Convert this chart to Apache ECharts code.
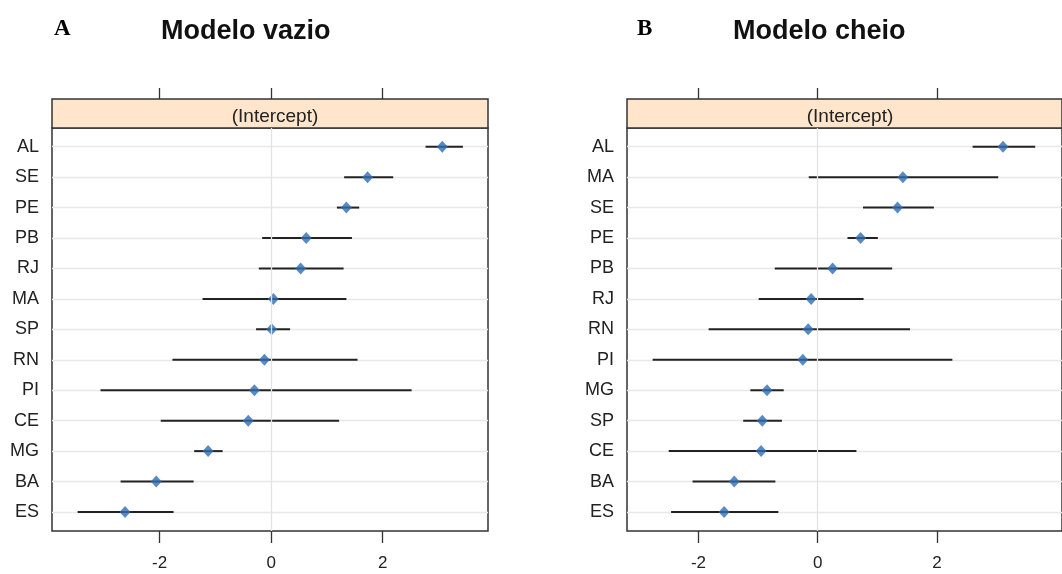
<!DOCTYPE html>
<html>
<head>
<meta charset="utf-8">
<script src="https://cdn.jsdelivr.net/npm/echarts@6/dist/echarts.min.js"></script>
<style>html,body{margin:0;padding:0;background:#fff;}#c{width:1062px;height:574px;}</style>
</head>
<body>
<div id="c"></div>
<script>
// Panel A: Modelo vazio
const categoriesA = ['AL','SE','PE','PB','RJ','MA','SP','RN','PI','CE','MG','BA','ES'];
const estA = [3.07, 1.73, 1.35, 0.63, 0.53, 0.04, 0.01, -0.12, -0.30, -0.41, -1.13, -2.06, -2.62];
const loA  = [2.77, 1.31, 1.18, -0.16, -0.22, -1.23, -0.27, -1.77, -3.06, -1.98, -1.38, -2.70, -3.47];
const hiA  = [3.44, 2.19, 1.58, 1.45, 1.30, 1.35, 0.34, 1.55, 2.52, 1.22, -0.87, -1.39, -1.75];
// Panel B: Modelo cheio
const categoriesB = ['AL','MA','SE','PE','PB','RJ','RN','PI','MG','SP','CE','BA','ES'];
const estB = [3.11, 1.43, 1.34, 0.72, 0.25, -0.11, -0.16, -0.25, -0.85, -0.93, -0.95, -1.40, -1.57];
const loB  = [2.60, -0.15, 0.76, 0.50, -0.72, -0.99, -1.83, -2.77, -1.13, -1.25, -2.50, -2.10, -2.46];
const hiB  = [3.65, 3.03, 1.95, 1.01, 1.25, 0.77, 1.55, 2.26, -0.57, -0.60, 0.65, -0.71, -0.66];
const xTicks = [-2, 0, 2];
const refValue = 0;
const panelLetters = ['A', 'B'];
const panelTitles = ['Modelo vazio', 'Modelo cheio'];
const stripLabel = '(Intercept)';

const FONT = '"Liberation Sans", Arial, sans-serif';
const DARK = '#333333';
const panels = [
  {cats: categoriesA, est: estA, lo: loA, hi: hiA, left: 52, width: 436, min: -3.93, max: 3.89, titleX: 161, letterX: 54},
  {cats: categoriesB, est: estB, lo: loB, hi: hiB, left: 627, width: 436, min: -3.20, max: 4.10, titleX: 733, letterX: 637}
];
const BOX_TOP = 128, BOX_BOTTOM = 531, STRIP_TOP = 99, ROW_TOP = 146.7, ROW_BOTTOM = 512;

const grid = [], xAxis = [], yAxis = [], series = [], title = [];
panels.forEach((p, i) => {
  const g = i * 3;
  grid.push({left: p.left, top: BOX_TOP, width: p.width, height: BOX_BOTTOM - BOX_TOP, show: true,
    borderColor: DARK, borderWidth: 1.5, backgroundColor: 'transparent', containLabel: false});
  grid.push({left: p.left, top: ROW_TOP, width: p.width, height: ROW_BOTTOM - ROW_TOP, show: false, containLabel: false});
  grid.push({left: p.left, top: STRIP_TOP, width: p.width, height: BOX_TOP - STRIP_TOP, show: true,
    borderColor: DARK, borderWidth: 1.5, backgroundColor: '#FFE5CC', containLabel: false});

  xAxis.push({gridIndex: g, type: 'value', min: p.min, max: p.max, position: 'bottom',
    axisLine: {show: false, onZero: false}, splitLine: {show: false},
    axisTick: {show: true, inside: false, length: 12, customValues: xTicks, lineStyle: {color: DARK, width: 1.3}},
    axisLabel: {show: true, customValues: xTicks, margin: 24, fontSize: 17, fontFamily: FONT, color: '#222',
      formatter: v => String(v)}});
  xAxis.push({gridIndex: g + 1, type: 'value', min: p.min, max: p.max, show: false});
  xAxis.push({gridIndex: g + 2, type: 'value', min: p.min, max: p.max, position: 'top',
    axisLine: {show: false, onZero: false}, splitLine: {show: false}, axisLabel: {show: false},
    axisTick: {show: true, inside: false, length: 11, customValues: xTicks, lineStyle: {color: DARK, width: 1.3}}});

  yAxis.push({gridIndex: g, type: 'value', min: 0, max: 1, show: false});
  yAxis.push({gridIndex: g + 1, type: 'category', data: p.cats, inverse: true, boundaryGap: false,
    axisLine: {show: false}, axisTick: {show: false},
    axisLabel: {show: true, margin: 13, fontSize: 18, fontFamily: FONT, color: '#222'},
    splitLine: {show: true, lineStyle: {color: '#e8e8e8', width: 1.3}}});
  yAxis.push({gridIndex: g + 2, type: 'value', min: 0, max: 1, show: false});

  series.push({type: 'scatter', xAxisIndex: g, yAxisIndex: g, data: [], silent: true,
    markLine: {silent: true, symbol: 'none', label: {show: false},
      lineStyle: {color: '#e3e3e3', width: 1.3, type: 'solid'}, data: [{xAxis: refValue}]}});
  series.push({type: 'custom', xAxisIndex: g + 1, yAxisIndex: g + 1, z: 3,
    data: p.cats.map((c, k) => [p.lo[k], p.hi[k], c]),
    encode: {x: [0, 1], y: 2},
    renderItem: (params, api) => {
      const a = api.coord([api.value(0), api.value(2)]);
      const b = api.coord([api.value(1), api.value(2)]);
      return {type: 'line', shape: {x1: a[0], y1: a[1], x2: b[0], y2: b[1]},
        style: {stroke: '#222', lineWidth: 2}};
    }});
  series.push({type: 'scatter', xAxisIndex: g + 1, yAxisIndex: g + 1, z: 4, symbol: 'diamond', symbolSize: [11, 12],
    itemStyle: {color: '#2F6DB3'}, data: p.cats.map((c, k) => [p.est[k], c])});

  title.push({text: panelLetters[i], left: p.letterX, top: 18, padding: 0,
    textStyle: {fontFamily: '"Liberation Serif", "Times New Roman", serif', fontWeight: 'bold', fontSize: 23, color: '#000'}});
  title.push({text: panelTitles[i], left: p.titleX, top: 18, padding: 0,
    textStyle: {fontFamily: FONT, fontWeight: 'bold', fontSize: 27, color: '#111'}});
  title.push({text: stripLabel, left: p.left + p.width / 2, textAlign: 'center', top: 102,
    textStyle: {fontFamily: FONT, fontWeight: 'normal', fontSize: 19, color: '#222'}});
});

const chart = echarts.init(document.getElementById('c'), null, {renderer: 'canvas'});
chart.setOption({animation: false, backgroundColor: '#fff', title, grid, xAxis, yAxis, series});
</script>
</body>
</html>
